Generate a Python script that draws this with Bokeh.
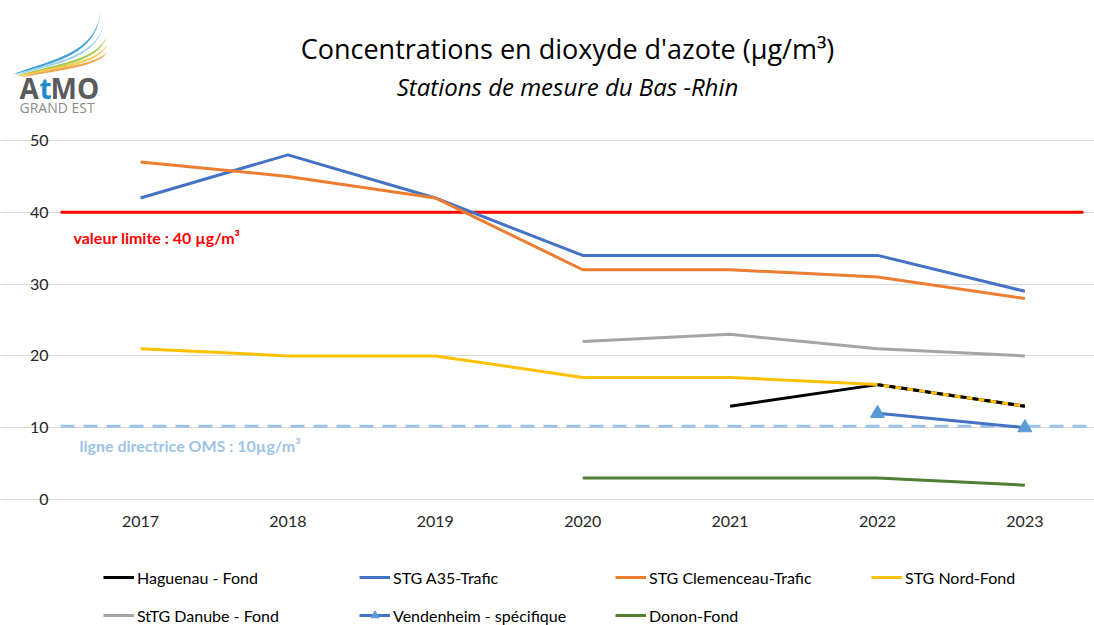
import numpy as np
from bokeh.plotting import figure
from bokeh.models import (Range1d, Label, Legend, LegendItem, FixedTicker, PolyAnnotation)
from bokeh.embed import file_html
from bokeh.resources import INLINE

# ---------------- data ----------------
years = [2017, 2018, 2019, 2020, 2021, 2022, 2023]
year_labels = ["2017", "2018", "2019", "2020", "2021", "2022", "2023"]
nan = float("nan")
haguenau = [nan, nan, nan, nan, 13, 16, 13]
a35 = [42, 48, 42, 34, 34, 34, 29]
clemenceau = [47, 45, 42, 32, 32, 31, 28]
nord = [21, 20, 20, 17, 17, 16, 13]
danube = [nan, nan, nan, 22, 23, 21, 20]
vendenheim = [nan, nan, nan, nan, nan, 12, 10]
donon = [nan, nan, nan, 3, 3, 3, 2]
y_ticks = [0, 10, 20, 30, 40, 50]
limit_value = 40
oms_value = 10.2
limit_text = "valeur limite : 40 µg/m³"
oms_text = "ligne directrice OMS : 10µg/m³"
title_text = "Concentrations en dioxyde d'azote (µg/m³)"
subtitle_text = "Stations de mesure du Bas -Rhin"
legend_row1 = ["Haguenau - Fond", "STG A35-Trafic", "STG Clemenceau-Trafic", "STG Nord-Fond"]
legend_row2 = ["StTG Danube - Fond", "Vendenheim - spécifique", "Donon-Fond"]

FONT = "Lato"
W, H = 1094, 625

# layout: whole canvas is the frame; x: 147.4 px per year, 2017 at px 140
XPX = 147.4
def xd(px):
    return 2017 + (px - 140) / XPX
YPX = 7.18
def yd(py):
    return (499 - py) / YPX

p = figure(width=W, height=H, output_backend="svg", toolbar_location=None,
           x_range=Range1d(xd(0), xd(W)), y_range=Range1d(yd(H), yd(0)),
           min_border_left=0, min_border_right=0, min_border_top=0, min_border_bottom=0)
p.outline_line_color = None
p.xgrid.grid_line_color = None
p.ygrid.grid_line_color = "#D9D9D9"
p.ygrid.grid_line_width = 1
p.ygrid.bounds = (xd(67), xd(W))

p.yaxis.ticker = FixedTicker(ticks=y_ticks)
p.xaxis.ticker = FixedTicker(ticks=years)
p.xaxis.major_label_overrides = {y: l for y, l in zip(years, year_labels)}
for ax in (p.xaxis, p.yaxis):
    ax.axis_line_color = None
    ax.major_tick_line_color = None
    ax.minor_tick_line_color = None
    ax.major_tick_out = 0
    ax.major_tick_in = 0
    ax.major_label_text_font = FONT
    ax.major_label_text_font_size = "16px"
    ax.major_label_text_color = "#262626"
p.yaxis.fixed_location = xd(67)
p.xaxis.fixed_location = 0
p.yaxis.major_label_standoff = 19
p.xaxis.major_label_standoff = 16

# reference lines
p.line([xd(60), xd(1083)], [limit_value, limit_value], line_color="#FF0000", line_width=3)
p.line([xd(60), xd(W)], [oms_value, oms_value], line_color="#9DC3E6",
       line_width=3, line_dash="14 9")

LW = 3
r_hag = p.line(years, haguenau, line_color="#000000", line_width=LW)
r_a35 = p.line(years, a35, line_color="#4472C4", line_width=LW)
r_cle = p.line(years, clemenceau, line_color="#ED7D31", line_width=LW)
r_nord = p.line(years, nord, line_color="#FFC000", line_width=LW)
# overlapping part of Haguenau drawn dashed over STG Nord
p.line(years[5:], haguenau[5:], line_color="#000000", line_width=LW, line_dash="6 6")
r_dan = p.line(years, danube, line_color="#A5A5A5", line_width=LW)
r_ven = p.line(years, vendenheim, line_color="#4472C4", line_width=LW)
r_ven_m = p.scatter(years, vendenheim, marker="triangle", size=14,
                    fill_color="#5B9BD5", line_color="#5B9BD5")
r_don = p.line(years, donon, line_color="#507E32", line_width=LW)

# text annotations on the chart
p.add_layout(Label(x=xd(73), y=limit_value, y_offset=-25, text=limit_text,
                   text_baseline="middle", text_font=FONT, text_font_style="bold",
                   text_font_size="16px", text_color="#FF0000"))
p.add_layout(Label(x=xd(79), y=oms_value, y_offset=-19, text=oms_text,
                   text_baseline="middle", text_font=FONT, text_font_style="bold",
                   text_font_size="16px", text_color="#9DC3E6"))

# titles (screen units, origin bottom-left of the frame == canvas)
p.add_layout(Label(x=567, y=H - 48, x_units="screen", y_units="screen", text=title_text,
                   text_align="center", text_baseline="middle", text_font="Open Sans",
                   text_font_size="27px", text_color="#000000"))
p.add_layout(Label(x=567, y=H - 86, x_units="screen", y_units="screen", text=subtitle_text,
                   text_align="center", text_baseline="middle", text_font="Open Sans",
                   text_font_style="italic", text_font_size="24px", text_color="#000000"))

# legends (two rows)
common = dict(orientation="horizontal", glyph_width=31, glyph_height=20, label_height=20,
              label_width=222, label_standoff=3, spacing=0, padding=0, margin=0,
              border_line_color=None, background_fill_alpha=0,
              label_text_font=FONT, label_text_font_size="16px", label_text_color="#000000")
leg1 = Legend(items=[LegendItem(label=legend_row1[0], renderers=[r_hag]),
                     LegendItem(label=legend_row1[1], renderers=[r_a35]),
                     LegendItem(label=legend_row1[2], renderers=[r_cle]),
                     LegendItem(label=legend_row1[3], renderers=[r_nord])],
              location=(103, H - 587), **common)
leg2 = Legend(items=[LegendItem(label=legend_row2[0], renderers=[r_dan]),
                     LegendItem(label=legend_row2[1], renderers=[r_ven, r_ven_m]),
                     LegendItem(label=legend_row2[2], renderers=[r_don])],
              location=(103, H - 625), **common)
p.add_layout(leg1, "center")
p.add_layout(leg2, "center")

# logo: fan of coloured swooshes
def bez(P, n=48):
    t = np.linspace(0, 1, n)[:, None]
    return ((1 - t) ** 3) * P[0] + 3 * (1 - t) ** 2 * t * P[1] \
        + 3 * (1 - t) * t ** 2 * P[2] + (t ** 3) * P[3]

swooshes = [
    ((14, 73), (55, 58), (95, 52), (100, 11), "#2F97D6", 2.4),
    ((15, 74), (55, 61), (95, 56), (103, 24), "#8FCBEA", 1.8),
    ((17, 75), (55, 63), (96, 60), (106, 36), "#9DC43F", 2.2),
    ((19, 75), (56, 65), (96, 62), (107, 44), "#F2C744", 2.2),
    ((21, 76), (57, 67), (95, 64), (106, 52), "#EE9A3A", 2.0),
]
for a, b, c, d, col, th in swooshes:
    pts = bez(np.array([a, b, c, d], dtype=float))
    t = np.linspace(0, 1, len(pts))
    lo = pts.copy()
    lo[:, 1] += th * np.sin(np.pi * t) ** 0.5 + 0.3
    poly = np.vstack([pts, lo[::-1]])
    p.add_layout(PolyAnnotation(xs=list(poly[:, 0]), ys=list(H - poly[:, 1]),
                                xs_units="screen", ys_units="screen",
                                fill_color=col, fill_alpha=0.9, line_color=None))

logo_parts = [("A", 19, "#5A5B5D"), ("t", 39, "#1D8ACB"), ("MO", 50, "#5A5B5D")]
for txt, px, col in logo_parts:
    p.add_layout(Label(x=px, y=H - 87, x_units="screen", y_units="screen", text=txt,
                       text_baseline="middle", text_font="Open Sans", text_font_style="bold",
                       text_font_size="28px", text_color=col))
p.add_layout(Label(x=19, y=H - 107, x_units="screen", y_units="screen",
                   text="GRAND EST", text_baseline="middle", text_font="Open Sans",
                   text_font_size="14px", text_color="#8C8C8C"))

open("out.html", "w").write(file_html(p, INLINE))
